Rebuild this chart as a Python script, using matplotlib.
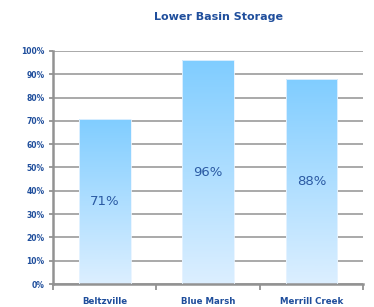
import matplotlib
matplotlib.use("Agg")
import matplotlib.pyplot as plt
import numpy as np
from matplotlib.colors import LinearSegmentedColormap

# datos
reservoirs = ["Beltzville", "Blue Marsh", "Merrill Creek"]
storage_pct = [71, 96, 88]
y_ticks = [0, 10, 20, 30, 40, 50, 60, 70, 80, 90, 100]

navy = "#1f4e9c"
grid_gray = "#929292"
grad = LinearSegmentedColormap.from_list("barfill", ["#dcefff", "#80cdff"])

fig = plt.figure(figsize=(3.74, 3.07), dpi=100)
ax = fig.add_axes([0.1417, 0.0749, 0.829, 0.759])

x = np.arange(len(reservoirs))
bars = ax.bar(x, storage_pct, width=0.5, color="none", edgecolor="#e8f4ff",
              linewidth=0.6, zorder=3)

# relleno degradado dentro de cada barra
gradient = np.linspace(0, 1, 256).reshape(-1, 1)
for b in bars:
    x0, y0 = b.get_x(), b.get_y()
    w, h = b.get_width(), b.get_height()
    im = ax.imshow(gradient, cmap=grad, aspect="auto", origin="lower",
                   extent=[x0, x0 + w, y0, y0 + h], zorder=2)
    im.set_clip_path(b)

for xi, v in zip(x, storage_pct):
    ax.text(xi, v / 2, f"{v}%", ha="center", va="center", fontsize=9.5,
            color="#2b5aa3", zorder=4)

ax.set_xlim(-0.5, len(reservoirs) - 0.5)
ax.set_ylim(0, 100)
ax.set_yticks(y_ticks)
ax.set_yticklabels([f"{t}%" for t in y_ticks], fontsize=5.5, fontweight="bold",
                   color=navy)
ax.set_xticks(x)
ax.set_xticklabels(reservoirs, fontsize=6.2, fontweight="bold", color=navy)
ax.set_xticks(np.arange(-0.5, len(reservoirs)), minor=True)
ax.tick_params(axis="x", which="major", length=0, pad=9)
ax.tick_params(axis="x", which="minor", length=4, width=1.3, color=grid_gray)
ax.tick_params(axis="y", length=3, width=1.3, color=grid_gray, pad=3)

ax.yaxis.grid(True, color=grid_gray, linewidth=1.1, zorder=1)
ax.set_axisbelow(True)
for s in ["top", "right"]:
    ax.spines[s].set_visible(False)
for s in ["left", "bottom"]:
    ax.spines[s].set_color(grid_gray)
    ax.spines[s].set_linewidth(1.8)

fig.text(0.583, 0.945, "Lower Basin Storage", ha="center", va="center",
         fontsize=8, fontweight="bold", color=navy)

fig.savefig("out.png", dpi=100)
